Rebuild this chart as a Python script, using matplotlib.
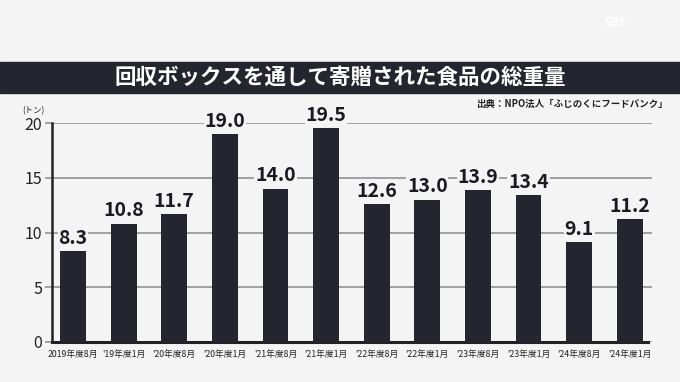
import matplotlib.pyplot as plt
import numpy as np

plt.rcParams['font.family'] = ['Noto Sans CJK JP', 'DejaVu Sans']

labels = ["2019年度8月", "'19年度1月", "'20年度8月", "'20年度1月", "'21年度8月", "'21年度1月",
          "'22年度8月", "'22年度1月", "'23年度8月", "'23年度1月", "'24年度8月", "'24年度1月"]
values = [8.3, 10.8, 11.7, 19.0, 14.0, 19.5, 12.6, 13.0, 13.9, 13.4, 9.1, 11.2]
yticks = [0, 5, 10, 15, 20]

bg = '#f4f4f4'
dark = '#25252f'

fig = plt.figure(figsize=(6.8, 3.82), dpi=100, facecolor=bg)

# title band
fig.patches.append(plt.Rectangle((0, 1 - 93/382), 1, 31/382, transform=fig.transFigure,
                                 color=dark, zorder=0))
fig.text(0.5, 1 - 77.5/382, '回収ボックスを通して寄贈された食品の総重量', color='white',
         fontsize=15.5, fontweight='bold', ha='center', va='center')
fig.text(0.982, 1 - 104/382, '出典：NPO法人「ふじのくにフードバンク」', color='#222222',
         fontsize=6.8, fontweight='bold', ha='right', va='center')
fig.text(0.905, 1 - 22/382, 'SBS', color='white', fontsize=8, fontweight='bold',
         ha='center', va='center')

ax = fig.add_axes([52/680, 1 - 342/382, 600/680, 219/382])
ax.set_facecolor(bg)
x = np.arange(len(values))
ax.bar(x, values, width=0.51, color=dark, zorder=3)
for xi, v in zip(x, values):
    ax.text(xi, v + 0.3, f'{v:.1f}', ha='center', va='bottom', fontsize=14,
            fontweight='bold', color='#1a1a22', zorder=4,
            bbox=dict(facecolor=bg, edgecolor='none', pad=0.5))

ax.set_xlim(-0.415, 11.44)
ax.set_ylim(0, 20)
ax.set_yticks(yticks)
ax.set_yticklabels([str(t) for t in yticks], fontsize=11.5, color='#222222')
ax.yaxis.grid(True, color='#9a9a9a', linewidth=1.3, zorder=0)
ax.tick_params(axis='y', length=5, width=1.3, color='#9a9a9a', pad=2)
ax.set_xticks(x)
ax.set_xticklabels(labels, fontsize=6.3, color='#222222')
ax.tick_params(axis='x', length=0, pad=6)
for s in ['top', 'right']:
    ax.spines[s].set_visible(False)
ax.spines['left'].set_linewidth(1.8)
ax.spines['left'].set_color('#222222')
ax.spines['bottom'].set_linewidth(2.2)
ax.spines['bottom'].set_color('#222222')
ax.spines['bottom'].set_bounds(-0.415, 11.36)
ax.text(-0.78, 20.75, '(トン)', fontsize=6, ha='center', va='bottom', color='#222222')

fig.savefig('out.png', dpi=100, facecolor=bg)
